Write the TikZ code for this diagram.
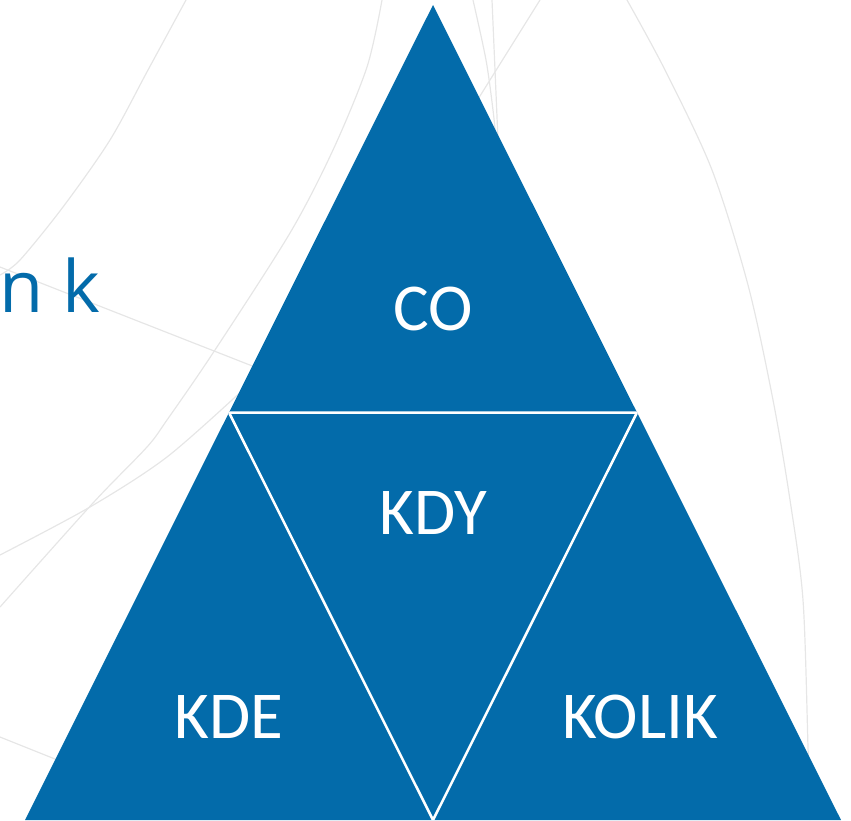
\documentclass[tikz,border=0pt]{standalone}
\usepackage{fontspec}
\setmainfont{Carlito}
\newfontfamily\opensansfont{Open Sans}
\usepackage{tikz}
\usetikzlibrary{calc}
\definecolor{trianglecolor}{HTML}{036BAA}
\definecolor{bglinecolor}{HTML}{E6E6E6}

\begin{document}
\begin{tikzpicture}[x=1pt,y=-1pt,
  bgline/.style={bglinecolor, line width=1.2pt},
  tritext/.style={white, inner sep=0pt, font=\fontsize{67}{67}\selectfont}]
  \useasboundingbox (0,0) rectangle (851,820);
  %% faint background curves
  \begin{scope}
  \clip (0,0) rectangle (851,820);
  \draw[bgline] plot[smooth] coordinates {(186,0) (148,70) (110,140) (63,207) (20,260) (0,275)};
  \draw[bgline] plot[smooth] coordinates {(382,0) (367,67) (333,150) (290,233) (213,353) (167,420) (147,447) (93,503) (0,607)};
  \draw[bgline] plot[smooth] coordinates {(245,388) (167,457) (90,507) (0,555)};
  \draw[bgline] (0,267) -- (260,369);
  \draw[bgline] (0,737) -- (60,761);
  \draw[bgline] plot[smooth] coordinates {(473,0) (486,60) (493,110) (496,140)};
  \draw[bgline] (492,0) -- (498,140);
  \draw[bgline] (540,0) -- (470,112);
  \draw[bgline] plot[smooth] coordinates {(627,0) (665,70) (712,170) (748,285) (773,400) (790,500) (803,600) (808,747) (810,820)};
  \end{scope}
  %%\draw[step=50pt,color=gray!50,dotted] (0,0) grid (851,820);
  \coordinate (apex) at (433,5);
  \coordinate (left) at (25,820);
  \coordinate (right) at (841,820);
  \coordinate (midleft) at ($(apex)!0.5!(left)$);
  \coordinate (midright) at ($(apex)!0.5!(right)$);
  \coordinate (midbottom) at ($(left)!0.5!(right)$);
  \fill[trianglecolor] (apex) -- (right) -- (left) -- cycle;
  \begin{scope}
  \clip (apex) -- (right) -- (left) -- cycle;
  \draw[white, line width=2.5pt] (midleft) -- (midright) -- (midbottom) -- cycle;
  \end{scope}
  \node[trianglecolor, inner sep=0pt, anchor=base west, font=\opensansfont\fontsize{72}{72}\selectfont] (question) at (-1,312) {n k};
\foreach \x/\y/\name/\txt in {433/309/co/CO, 433/513/kdy/KDY, 229/717/kde/KDE, 640/717/kolik/KOLIK}
    \node[tritext] (\name) at (\x,\y) {\txt};
\end{tikzpicture}
\end{document}
